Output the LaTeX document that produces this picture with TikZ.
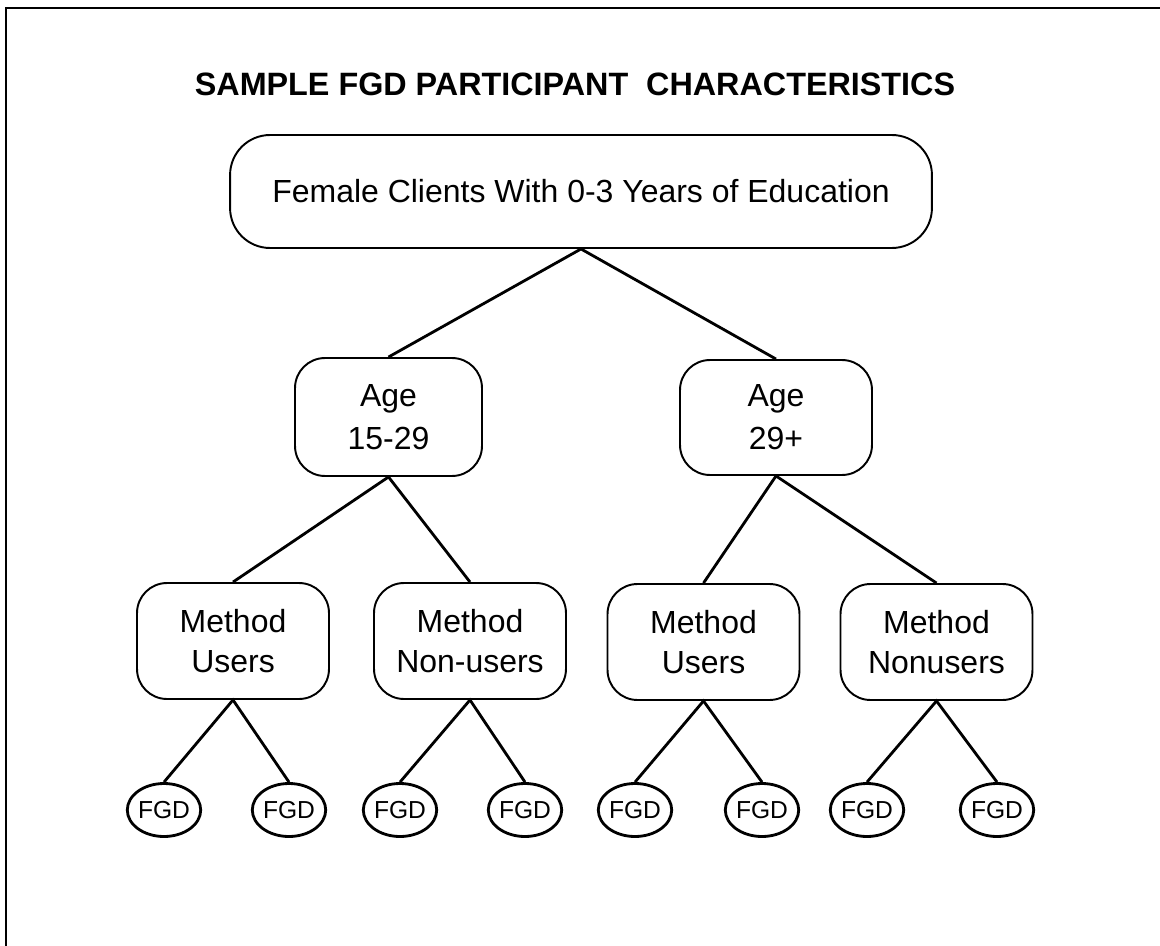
\documentclass[tikz,border=0pt]{standalone}
\usepackage{fontspec}
\setmainfont{Liberation Sans}
\usetikzlibrary{shapes.geometric}

\tikzset{
  catbox/.style={draw, line width=1.1pt, rounded corners=0.6cm, align=center,
    minimum width=3.84cm, minimum height=2.32cm, inner sep=0pt,
    font=\fontsize{18.2}{22.8}\selectfont},
  agebox/.style={catbox, font=\fontsize{18.2}{24.6}\selectfont},
  fgdnode/.style={draw, ellipse, line width=1.6pt, minimum width=1.4cm,
    minimum height=1.06cm, inner sep=0pt, font=\fontsize{14}{16}\selectfont},
  link/.style={line width=1.6pt}
}

\begin{document}
\begin{tikzpicture}[x=0.02cm,y=-0.02cm]
\useasboundingbox (0,0) rectangle (1160,946);
\draw[line width=1.1pt] (6,946) -- (6,8) -- (1160,8);

\node[font=\bfseries\fontsize{18.4}{22}\selectfont] (title) at (575,84)
  {SAMPLE FGD PARTICIPANT\ \ CHARACTERISTICS};

\node[catbox, minimum width=14.04cm, minimum height=2.26cm, rounded corners=0.8cm]
  (root) at (581,191.5) {Female Clients With 0-3 Years of Education};

\node[agebox, minimum width=3.74cm, minimum height=2.36cm] (young) at (388.5,417) {Age\\15-29};
\node[agebox, minimum height=2.3cm] (old) at (776,417.5) {Age\\29+};

\node[catbox] (usersA) at (233,641) {Method\\Users};
\node[catbox] (nonusersA) at (470,641) {Method\\Non-users};
\node[catbox] (usersB) at (703.5,642) {Method\\Users};
\node[catbox] (nonusersB) at (936.5,642) {Method\\Nonusers};

\foreach \name/\xpos in {fa/164, fb/289, fc/400, fd/525, fe/635, ff/762, fg/867, fh/997}
  \node[fgdnode] (\name) at (\xpos,810) {FGD};

\foreach \parent/\lkid/\rkid in {root/young/old, young/usersA/nonusersA, old/usersB/nonusersB,
    usersA/fa/fb, nonusersA/fc/fd, usersB/fe/ff, nonusersB/fg/fh}
  \draw[link] (\lkid.north) -- (\parent.south) -- (\rkid.north);
\end{tikzpicture}
\end{document}
